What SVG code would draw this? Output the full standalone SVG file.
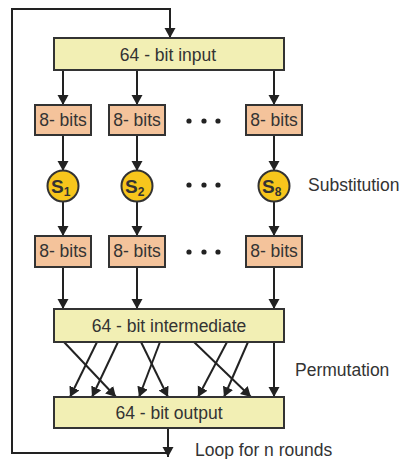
<svg xmlns="http://www.w3.org/2000/svg" width="399" height="459" viewBox="0 0 399 459">
<defs>
<marker id="ah" markerUnits="userSpaceOnUse" markerWidth="12" markerHeight="12" refX="10" refY="5.5" orient="auto">
<path d="M0,0 L10,5.5 L0,11 z" fill="#222"/>
</marker>
<style>
.wide{fill:#f2efb4;stroke:#333;stroke-width:2}
.byte{fill:#f4c39b;stroke:#333;stroke-width:2}
.sbox{fill:#f7c61c;stroke:#333;stroke-width:2}
.t{font-family:"Liberation Sans",Arial,sans-serif;font-size:17.5px;fill:#333}
.c{text-anchor:middle}
.s{font-family:"Liberation Sans",Arial,sans-serif;font-weight:bold;fill:#333}
.ln{stroke:#222;stroke-width:2;fill:none}
.arr{stroke:#222;stroke-width:2;fill:none;marker-end:url(#ah)}
.dot{fill:#222}
</style>
</defs>
<rect width="399" height="459" fill="#fff"/>

<g id="connectors">
<path class="arr" d="M168,453 H12 V9 H170 V38"/>
<path class="arr" d="M168,428 V457"/>
<path class="arr" d="M63,70 V105"/>
<path class="arr" d="M137,70 V105"/>
<path class="arr" d="M274,70 V105"/>
<path class="arr" d="M63,135 V171"/>
<path class="arr" d="M137,135 V171"/>
<path class="arr" d="M274,135 V171"/>
<path class="arr" d="M63,201 V236"/>
<path class="arr" d="M137,201 V236"/>
<path class="arr" d="M274,201 V236"/>
<path class="arr" d="M63,267 V309"/>
<path class="arr" d="M137,267 V309"/>
<path class="arr" d="M274,267 V309"/>
<path class="arr" d="M64,342 L116,397"/>
<path class="arr" d="M97,342 L70,397"/>
<path class="arr" d="M118,342 L92,397"/>
<path class="arr" d="M141,342 L168,397"/>
<path class="arr" d="M160,342 L139,397"/>
<path class="arr" d="M194,342 L251,397"/>
<path class="arr" d="M227,342 L198,397"/>
<path class="arr" d="M248,342 L224,397"/>
<path class="arr" d="M274,342 L274,397"/>
</g>

<g id="input">
<rect class="wide" x="54" y="38" width="230" height="32"/>
<text class="t c" x="168" y="61">64 - bit input</text>
</g>

<g id="byte1"><rect class="byte" x="35" y="105" width="56" height="30"/><text class="t c" x="63" y="126">8- bits</text></g>
<g id="byte2"><rect class="byte" x="109" y="105" width="56" height="30"/><text class="t c" x="137" y="126">8- bits</text></g>
<g id="byte8"><rect class="byte" x="246" y="105" width="56" height="30"/><text class="t c" x="274" y="126">8- bits</text></g>

<g id="s1"><circle class="sbox" cx="63" cy="186" r="15.5"/><text class="s" x="51" y="193" font-size="19">S<tspan font-size="12" dy="3">1</tspan></text></g>
<g id="s2"><circle class="sbox" cx="137" cy="186" r="15.5"/><text class="s" x="125" y="193" font-size="19">S<tspan font-size="12" dy="3">2</tspan></text></g>
<g id="s8"><circle class="sbox" cx="274" cy="186" r="15.5"/><text class="s" x="262" y="193" font-size="19">S<tspan font-size="12" dy="3">8</tspan></text></g>

<g id="obyte1"><rect class="byte" x="35" y="236" width="56" height="31"/><text class="t c" x="63" y="257">8- bits</text></g>
<g id="obyte2"><rect class="byte" x="109" y="236" width="56" height="31"/><text class="t c" x="137" y="257">8- bits</text></g>
<g id="obyte8"><rect class="byte" x="246" y="236" width="56" height="31"/><text class="t c" x="274" y="257">8- bits</text></g>

<g id="dots">
<circle class="dot" cx="189" cy="121" r="2.6"/><circle class="dot" cx="204" cy="121" r="2.6"/><circle class="dot" cx="218" cy="121" r="2.6"/>
<circle class="dot" cx="189" cy="185" r="2.6"/><circle class="dot" cx="204" cy="185" r="2.6"/><circle class="dot" cx="218" cy="185" r="2.6"/>
<circle class="dot" cx="189" cy="252" r="2.6"/><circle class="dot" cx="204" cy="252" r="2.6"/><circle class="dot" cx="218" cy="252" r="2.6"/>
</g>

<g id="intermediate">
<rect class="wide" x="54" y="309" width="230" height="33"/>
<text class="t c" x="169" y="332">64 - bit intermediate</text>
</g>

<g id="output">
<rect class="wide" x="54" y="397" width="230" height="31"/>
<text class="t c" x="169" y="419">64 - bit output</text>
</g>

<text class="t" x="308" y="191">Substitution</text>
<text class="t" x="295" y="376">Permutation</text>
<text class="t" x="195" y="456">Loop for n rounds</text>
</svg>
